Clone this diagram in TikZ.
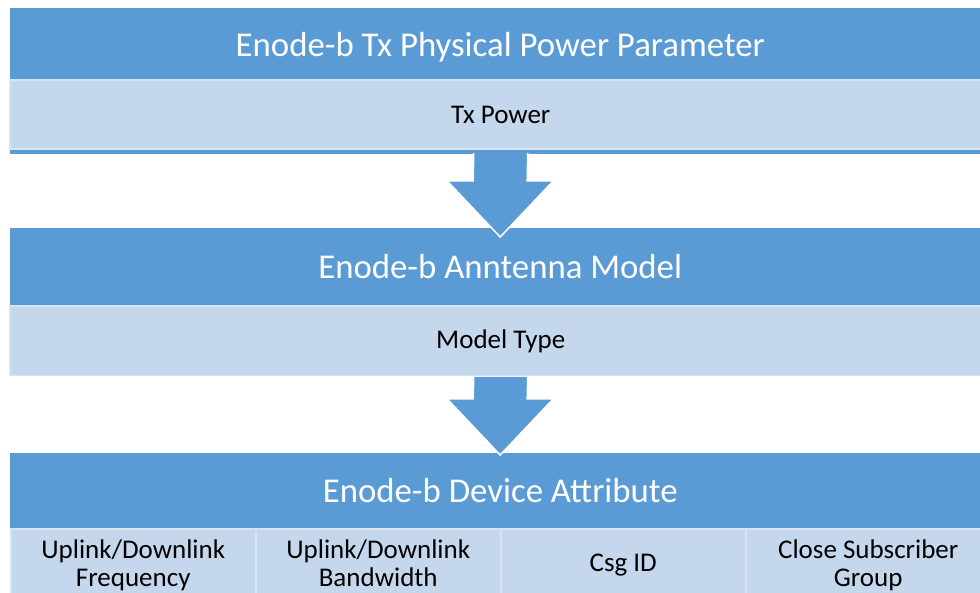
\documentclass[tikz,border=0pt]{standalone}
\usepackage{fontspec}
\setmainfont{Carlito}
\usetikzlibrary{calc}
\definecolor{hdrblue}{HTML}{5B9BD5}
\definecolor{bandblue}{HTML}{C5D7EC}
\definecolor{bandedge}{HTML}{D8E4F3}
\begin{document}
\begin{tikzpicture}[x=1pt,y=-1pt,
  header/.style={rectangle,anchor=north west,inner sep=0pt,fill=hdrblue,
    minimum width=980pt,minimum height=#1,text=white,
    font=\fontsize{34.8}{40}\selectfont},
  band/.style={rectangle,anchor=north west,inner sep=0pt,fill=bandblue,
    draw=bandedge,line width=1.5pt,minimum width=982pt,minimum height=#1,
    text=black,font=\fontsize{27}{30}\selectfont},
  cell/.style={rectangle,anchor=north west,inner sep=0pt,fill=bandblue,
    draw=bandedge,line width=1.5pt,minimum width=245pt,minimum height=70pt,
    text=black,align=center,text depth=1.5pt,
    font=\fontsize{27}{28.5}\selectfont},
  blockarrow/.style={fill=hdrblue,draw=white,line width=1.5pt,line join=miter}]
\useasboundingbox (0,0) rectangle (980,593);
\clip (0,0) rectangle (980,593);

% first group: transmit power
\node[header=71.5pt] (h1) at (10,8)
  {\raisebox{-3.5pt}[\height][\depth]{Enode-b Tx Physical Power Parameter}};
\fill[hdrblue] (10,148) rectangle (990,154);
\node[band=69pt] (b1) at (9,79.5) {Tx Power};

% second group: antenna model
\node[header=77pt] (h2) at (10,228) {Enode-b Anntenna Model};
\node[band=69.5pt] (b2) at (9,305.5) {Model Type};

% third group: device attributes
\node[header=75pt] (h3) at (10,453) {Enode-b Device Attribute};
\node[cell] (c1) at (10,528) {Uplink/Downlink\\Frequency};
\node[cell] (c2) at (255,528) {Uplink/Downlink\\Bandwidth};
\node[cell] (c3) at (500,528) {Csg ID};
\node[cell] (c4) at (745,528) {Close Subscriber\\Group};

% block arrows between the groups
\path ($(b1.south)+(0,3)$) coordinate (a1top)
      ($(h2.north)+(0,9)$) coordinate (a1tip);
\filldraw[blockarrow]
  ($(a1top)+(-27,0)$) -- ($(a1tip)+(-27,-56)$) -- ($(a1tip)+(-53,-56)$)
  -- (a1tip) -- ($(a1tip)+(53,-56)$) -- ($(a1tip)+(27,-56)$)
  -- ($(a1top)+(27,0)$);

\path ($(b2.south)+(0,0.5)$) coordinate (a2top)
      ($(h3.north)+(0,2)$) coordinate (a2tip);
\filldraw[blockarrow]
  ($(a2top)+(-27,0)$) -- ($(a2tip)+(-27,-56)$) -- ($(a2tip)+(-53,-56)$)
  -- (a2tip) -- ($(a2tip)+(53,-56)$) -- ($(a2tip)+(27,-56)$)
  -- ($(a2top)+(27,0)$);
\end{tikzpicture}
\end{document}
